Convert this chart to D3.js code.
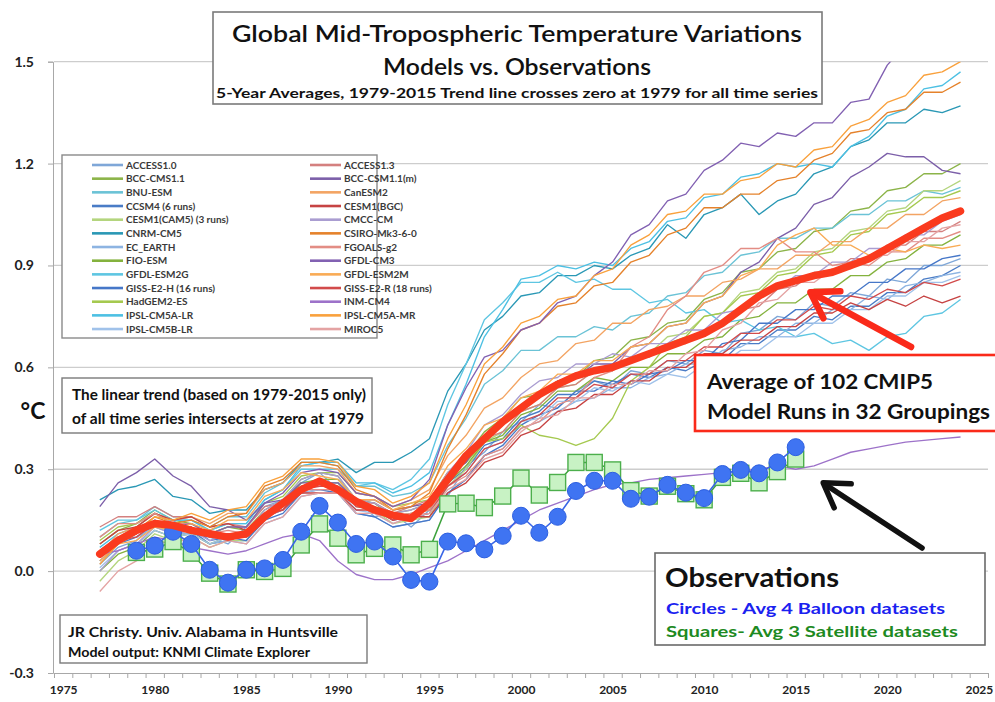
<!DOCTYPE html>
<html><head><meta charset="utf-8">
<script src="https://cdn.jsdelivr.net/npm/d3@7/dist/d3.min.js"></script>
<style>body{margin:0;background:#fff}svg{display:block}</style>
</head><body><svg id="c" width="995" height="702"></svg>
<script>
// ---------- DATA ----------
const years = d3.range(1977, 2025);      // model 5-yr averages
const obsYears = d3.range(1979, 2016);   // observations
const yTicks = [-0.3, 0.0, 0.3, 0.6, 0.9, 1.2, 1.5];
const xTickLabels = [1975,1980,1985,1990,1995,2000,2005,2010,2015,2020,2025];

const modelNames = ["ACCESS1.0","BCC-CMS1.1","BNU-ESM","CCSM4 (6 runs)","CESM1(CAM5) (3 runs)","CNRM-CM5","EC_EARTH","FIO-ESM","GFDL-ESM2G","GISS-E2-H (16 runs)","HadGEM2-ES","IPSL-CM5A-LR","IPSL-CM5B-LR",
  "ACCESS1.3","BCC-CSM1.1(m)","CanESM2","CESM1(BGC)","CMCC-CM","CSIRO-Mk3-6-0","FGOALS-g2","GFDL-CM3","GFDL-ESM2M","GISS-E2-R (18 runs)","INM-CM4","IPSL-CM5A-MR","MIROC5"];
const modelColors = ["#7fa7d8","#8cb449","#6bc3d6","#4a7cc6","#b4d57e","#2a98b5","#8db4e2","#84b23e","#5ec6e2","#4677c8","#a5c94f","#4dc0e3","#a0c2ea",
  "#d4807f","#7c5fa9","#f3a463","#c64343","#aa9dd1","#e5822b","#e38d85","#8261b2","#f9ab55","#d24b4b","#9d72c9","#f9a13d","#e4a3a3"];

const ACCESS10 = [.02,.07,.09,.14,.15,.11,.10,.08,.13,.19,.21,.26, .29,.24,.21,.16,.17,.13,.18,.22,.31,.35,.41,.44, .49,.48,.53,.56,.54,.59,.58,.62,.61,.65,.64,.70, .71,.75,.74,.79,.78,.82,.81,.86,.85,.90,.90,.92];
const BCCCMS11 = [.08,.12,.14,.18,.15,.14,.11,.13,.12,.18,.21,.27, .29,.28,.21,.20,.17,.18,.20,.29,.34,.41,.45,.51, .52,.56,.57,.62,.63,.68,.69,.73,.74,.80,.82,.88, .89,.94,.95,1.00,1.01,1.06,1.07,1.12,1.13,1.17,1.17,1.20];
const BNUESM = [.10,.14,.15,.19,.16,.16,.13,.16,.16,.23,.26,.31, .32,.31,.25,.25,.22,.23,.26,.37,.45,.55,.59,.65, .65,.69,.69,.72,.71,.75,.76,.81,.82,.87,.88,.93, .94,.98,.98,1.01,1.01,1.05,1.05,1.09,1.09,1.12,1.11,1.13];
const CCSM4 = [.03,.08,.10,.14,.11,.12,.08,.09,.09,.16,.18,.25, .26,.26,.20,.19,.15,.16,.17,.26,.30,.37,.39,.45, .47,.52,.52,.56,.55,.58,.57,.60,.59,.62,.62,.67, .67,.71,.71,.75,.74,.78,.78,.82,.82,.86,.87,.90];
const CESM1CAM5 = [-.03,.03,.06,.11,.09,.10,.07,.09,.09,.16,.19,.25, .26,.26,.19,.18,.14,.15,.16,.25,.30,.38,.41,.47, .49,.54,.55,.59,.59,.63,.64,.69,.70,.75,.76,.82, .83,.88,.89,.94,.95,1.00,1.01,1.06,1.07,1.12,1.12,1.15];
const CNRMCM5 = [.21,.24,.25,.27,.22,.21,.17,.18,.18,.24,.26,.32, .32,.33,.29,.32,.32,.35,.39,.53,.61,.71,.75,.81, .82,.87,.87,.90,.89,.93,.95,1.02,.98,1.05,1.07,1.11, 1.05,1.09,1.11,1.17,1.19,1.25,1.27,1.32,1.32,1.36,1.35,1.37];
const ECEARTH = [.06,.10,.10,.13,.11,.11,.08,.09,.08,.14,.16,.22, .23,.23,.17,.16,.13,.14,.15,.23,.27,.34,.36,.42, .44,.47,.50,.51,.54,.54,.57,.58,.61,.61,.65,.66, .69,.69,.73,.73,.77,.77,.81,.80,.84,.85,.87,.88];
const FIOESM = [.00,.05,.07,.12,.10,.11,.08,.10,.10,.17,.20,.26, .27,.27,.21,.20,.16,.17,.18,.26,.31,.38,.40,.46, .48,.53,.53,.57,.56,.60,.60,.64,.64,.68,.69,.74, .75,.79,.79,.83,.83,.87,.87,.91,.92,.96,.96,.99];
const GFDLESM2G = [.12,.15,.15,.18,.15,.15,.12,.14,.14,.21,.24,.30, .30,.30,.25,.26,.24,.27,.33,.49,.61,.74,.79,.85, .85,.88,.85,.86,.83,.83,.79,.80,.76,.77,.73,.74, .71,.72,.69,.70,.67,.68,.65,.69,.70,.75,.76,.80];
const GISSE2H = [.04,.09,.11,.15,.12,.13,.09,.10,.09,.15,.17,.23, .24,.23,.17,.16,.13,.14,.15,.23,.27,.34,.37,.43, .46,.48,.53,.53,.56,.55,.58,.59,.62,.62,.67,.68, .73,.73,.77,.77,.81,.81,.85,.85,.89,.89,.92,.93];
const HADGEM2ES = [.09,.13,.14,.17,.14,.14,.11,.13,.13,.20,.22,.28, .29,.29,.23,.22,.19,.20,.21,.29,.32,.38,.39,.43, .40,.39,.37,.39,.45,.56,.60,.67,.69,.75,.76,.81, .82,.87,.88,.93,.94,.99,1.00,1.05,1.06,1.10,1.10,1.12];
const IPSLCM5ALR = [.07,.11,.13,.17,.15,.15,.12,.14,.14,.21,.24,.31, .32,.32,.26,.26,.23,.25,.29,.43,.55,.69,.77,.86, .87,.90,.89,.91,.90,.95,.97,1.03,1.04,1.10,1.11,1.16, 1.17,1.20,1.19,1.20,1.19,1.25,1.28,1.34,1.36,1.42,1.43,1.47];
const IPSLCM5BLR = [.01,.06,.08,.12,.10,.11,.08,.10,.10,.16,.18,.23, .24,.24,.18,.17,.14,.16,.17,.25,.29,.36,.38,.44, .45,.50,.50,.54,.53,.56,.55,.58,.57,.61,.61,.65, .65,.69,.69,.73,.73,.77,.77,.81,.81,.85,.85,.87];
const ACCESS13 = [.13,.16,.16,.19,.16,.16,.13,.14,.13,.19,.20,.25, .25,.25,.20,.20,.17,.19,.21,.29,.33,.39,.41,.47, .49,.54,.55,.59,.59,.63,.63,.67,.67,.71,.72,.77, .78,.83,.84,.88,.88,.92,.92,.96,.96,1.00,1.00,1.03];
const BCCCSM11m = [.19,.26,.29,.33,.28,.25,.19,.18,.15,.20,.21,.26, .26,.26,.21,.21,.18,.19,.20,.28,.32,.40,.43,.49, .51,.56,.57,.61,.61,.66,.67,.72,.73,.79,.81,.88, .91,.98,1.01,1.08,1.10,1.16,1.19,1.23,1.22,1.22,1.18,1.17];
const CANESM2 = [.05,.11,.13,.17,.15,.16,.14,.17,.17,.24,.26,.31, .31,.30,.23,.22,.19,.21,.24,.34,.40,.48,.51,.57, .61,.62,.67,.68,.73,.73,.77,.78,.81,.81,.85,.86, .89,.89,.93,.93,.97,.97,1.01,1.01,1.05,1.05,1.09,1.10];
const CESM1BGC = [.08,.12,.13,.17,.15,.16,.13,.14,.12,.17,.18,.23, .23,.23,.18,.18,.15,.16,.16,.23,.26,.32,.34,.40, .42,.47,.48,.52,.52,.56,.56,.60,.60,.64,.64,.68, .68,.72,.72,.76,.76,.79,.77,.80,.78,.81,.79,.81];
const CMCCCM = [.00,.06,.08,.13,.11,.12,.09,.11,.11,.18,.21,.27, .29,.28,.21,.20,.17,.18,.20,.29,.35,.43,.46,.52, .56,.57,.61,.61,.64,.63,.67,.67,.71,.71,.76,.77, .82,.83,.87,.87,.91,.91,.95,.95,.99,.99,1.03,1.05];
const CSIROMK360 = [.04,.10,.12,.16,.14,.15,.13,.16,.17,.25,.27,.32, .32,.31,.24,.22,.18,.19,.23,.36,.46,.58,.64,.71, .73,.78,.79,.84,.85,.91,.93,.99,1.01,1.07,1.07,1.11, 1.11,1.15,1.16,1.21,1.23,1.29,1.30,1.35,1.36,1.41,1.41,1.44];
const FGOALSG2 = [.10,.14,.14,.17,.14,.14,.11,.12,.11,.17,.19,.24, .24,.24,.19,.19,.16,.17,.18,.25,.28,.34,.36,.42, .44,.49,.51,.57,.59,.66,.69,.77,.81,.88,.90,.95, .95,.98,.94,.94,.90,.91,.90,.94,.94,.98,.98,1.00];
const GFDLCM3 = [.06,.10,.11,.15,.13,.14,.11,.13,.13,.20,.23,.29, .30,.29,.23,.22,.19,.21,.27,.43,.54,.63,.65,.71, .73,.79,.81,.87,.91,.99,1.02,1.09,1.11,1.18,1.21,1.26, 1.25,1.29,1.28,1.32,1.32,1.38,1.39,1.49,1.55,1.63,1.65,1.70];
const GFDLESM2M = [.03,.08,.09,.13,.12,.14,.12,.15,.15,.22,.24,.29, .28,.27,.21,.21,.18,.20,.22,.31,.36,.43,.45,.51, .53,.58,.58,.62,.62,.66,.67,.72,.73,.79,.81,.87, .89,.96,.99,1.01,.96,.96,.93,.95,.94,.96,.95,.96];
const GISSE2R = [.05,.09,.10,.14,.12,.13,.10,.11,.10,.16,.18,.24, .25,.25,.19,.18,.15,.16,.17,.25,.29,.36,.38,.44, .46,.51,.51,.55,.54,.58,.58,.62,.62,.66,.66,.70, .70,.74,.74,.78,.77,.81,.80,.83,.82,.85,.84,.86];
const INMCM4 = [.05,.06,.08,.10,.09,.07,.06,.05,.06,.08,.10,.11, .09,.03,-.01,-.025,-.025,-.01,.01,.03,.06,.09,.12,.15, .18,.20,.22,.24,.255,.26,.27,.275,.28,.285,.29,.295, .30,.31,.30,.31,.33,.35,.36,.37,.38,.385,.39,.395];
const IPSLCM5AMR = [.02,.08,.11,.16,.15,.17,.15,.18,.19,.26,.28,.33, .33,.32,.25,.24,.20,.22,.26,.39,.49,.61,.66,.73, .75,.80,.81,.87,.89,.96,.99,1.05,1.06,1.11,1.11,1.15, 1.16,1.20,1.19,1.24,1.25,1.31,1.33,1.38,1.40,1.46,1.47,1.50];
const MIROC5 = [-.06,.00,.03,.09,.08,.10,.07,.09,.08,.14,.16,.22, .23,.23,.17,.17,.14,.16,.17,.24,.27,.33,.35,.41, .45,.46,.51,.51,.55,.55,.59,.59,.64,.65,.71,.73, .79,.80,.85,.85,.89,.89,.93,.93,.97,.97,1.01,1.02];

const modelSeries = [ACCESS10,BCCCMS11,BNUESM,CCSM4,CESM1CAM5,CNRMCM5,ECEARTH,FIOESM,GFDLESM2G,GISSE2H,HADGEM2ES,IPSLCM5ALR,IPSLCM5BLR,
  ACCESS13,BCCCSM11m,CANESM2,CESM1BGC,CMCCCM,CSIROMK360,FGOALSG2,GFDLCM3,GFDLESM2M,GISSE2R,INMCM4,IPSLCM5AMR,MIROC5];

const modelMean = [.05,.09,.12,.14,.135,.12,.11,.10,.11,.16,.20,.24, .265,.24,.205,.18,.165,.155,.20,.27,.34,.39,.44,.48, .52,.55,.575,.59,.60,.62,.64,.66,.68,.70,.73,.77, .81,.84,.855,.87,.88,.90,.92,.95,.98,1.01,1.04,1.06];

const balloon = [.060,.075,.116,.080,.004,-.034,.004,.008,.033,.116, .192,.143,.080,.087,.043,-.026,-.031,.087,.082,.064, .104,.163,.113,.160,.236,.266,.266,.213,.219,.254, .231,.215,.286,.298,.288,.320,.365];
const satellite = [.055,.065,.087,.053,-.006,-.038,.004,-.001,.008,.077, .139,.097,.048,.067,.077,.048,.064,.198,.200,.187, .221,.274,.224,.261,.320,.320,.298,.237,.221,.250, .228,.210,.276,.288,.260,.293,.330];

// ---------- CHART ----------
const FONT = "Lato, 'Open Sans', 'DejaVu Sans', sans-serif";
const svg = d3.select("#c");
const x = d3.scaleLinear().domain([1974.5, 2025.5]).range([54, 988]);
const y = d3.scaleLinear().domain([-0.3, 1.5]).range([673, 61.7]);

svg.append("defs").append("clipPath").attr("id","plot")
  .append("rect").attr("x",54).attr("y",y(1.5)).attr("width",934).attr("height",y(-0.3)-y(1.5));

// gridlines
svg.append("g").selectAll("line").data(yTicks.filter(d=>d>-0.3)).join("line")
  .attr("x1",54).attr("x2",988).attr("y1",d=>y(d)).attr("y2",d=>y(d))
  .attr("stroke","#cdcdcd").attr("stroke-width",1.3);

// y axis
const ya = svg.append("g").attr("transform","translate(53,0)")
  .call(d3.axisLeft(y).tickValues(yTicks).tickSize(5).tickPadding(14).tickFormat(d=>d.toFixed(1)));
ya.select(".domain").attr("stroke","#a8a8a8");
ya.selectAll(".tick line").attr("stroke","#a8a8a8");
ya.selectAll("text").attr("font-family",FONT).attr("font-weight","bold").attr("font-size",14).attr("fill","#222");

// x axis ticks
const xa = svg.append("g").attr("transform","translate(0,673)")
  .call(d3.axisBottom(x).tickValues(d3.range(1974.5, 2026, 1)).tickSize(5).tickFormat(""));
xa.select(".domain").attr("stroke","#a8a8a8");
xa.selectAll(".tick line").attr("stroke","#a8a8a8");
const xl = svg.append("g").attr("transform","translate(0,673)")
  .call(d3.axisBottom(x).tickValues(xTickLabels).tickSize(0).tickPadding(12).tickFormat(d3.format("d")));
xl.select(".domain").remove();
xl.selectAll("text").attr("font-family",FONT).attr("font-weight","bold").attr("font-size",12).attr("fill","#222");

// °C label
svg.append("text").attr("x",33).attr("y",419).attr("text-anchor","middle")
  .attr("font-family",FONT).attr("font-weight","bold").attr("font-size",23).attr("fill","#111").text("°C");

const plot = svg.append("g").attr("clip-path","url(#plot)");
const line = d3.line().x((d,i)=>x(years[i])).y(d=>y(d));

// model spaghetti
plot.append("g").selectAll("path").data(modelSeries).join("path")
  .attr("d",line).attr("fill","none")
  .attr("stroke",(d,i)=>modelColors[i]).attr("stroke-width",1.35).attr("stroke-linejoin","round");

// satellite squares
const oline = d3.line().x((d,i)=>x(obsYears[i])).y(d=>y(d));
plot.append("path").datum(satellite).attr("d",oline).attr("fill","none").attr("stroke","#3ca23c").attr("stroke-width",1.5);
plot.append("g").selectAll("rect").data(satellite).join("rect")
  .attr("x",(d,i)=>x(obsYears[i])-8).attr("y",d=>y(d)-8).attr("width",16).attr("height",16)
  .attr("fill","#c8f2c4").attr("stroke","#4caf4c").attr("stroke-width",1.4);

// balloon circles
plot.append("path").datum(balloon).attr("d",oline).attr("fill","none").attr("stroke","#3a66e6").attr("stroke-width",1.6);
plot.append("g").selectAll("circle").data(balloon).join("circle")
  .attr("cx",(d,i)=>x(obsYears[i])).attr("cy",d=>y(d)).attr("r",8.5)
  .attr("fill","#3f74f2").attr("stroke","#2d5fe0").attr("stroke-width",1);

// model mean
plot.append("path").datum(modelMean).attr("d",line).attr("fill","none")
  .attr("stroke","#fa3a1e").attr("stroke-width",7.5).attr("stroke-linejoin","round").attr("stroke-linecap","round");

// ---------- ANNOTATIONS ----------
function box(x0,y0,w,h,stroke,sw){
  svg.append("rect").attr("x",x0).attr("y",y0).attr("width",w).attr("height",h)
    .attr("fill","#fff").attr("stroke",stroke).attr("stroke-width",sw);
}
function txt(t,x0,y0,size,opts={}){
  const e = svg.append("text").attr("x",x0).attr("y",y0).attr("font-family",FONT)
    .attr("font-size",size).attr("font-weight",opts.weight||"bold").attr("fill",opts.fill||"#111")
    .attr("text-anchor",opts.anchor||"start").text(t);
  if(opts.len) e.attr("textLength",opts.len).attr("lengthAdjust","spacingAndGlyphs");
  return e;
}

// title box
box(213,12,609,92,"#7a7a7a",1.6);
txt("Global Mid-Tropospheric Temperature Variations",517,42,23,{anchor:"middle",len:570,weight:600});
txt("Models vs. Observations",517,75,23,{anchor:"middle",len:268,weight:600});
txt("5-Year Averages, 1979-2015 Trend line crosses zero at 1979 for all time series",517,98,14,{anchor:"middle",len:602});

// legend box
box(62,155,315,183,"#8a8a8a",1.4);
const lg = svg.append("g");
modelNames.forEach((n,i)=>{
  const col = i<13?0:1, row = i%13;
  const lx = col===0?92:310, ly = 165 + row*13.67;
  lg.append("line").attr("x1",lx).attr("x2",lx+31).attr("y1",ly).attr("y2",ly)
    .attr("stroke",modelColors[i]).attr("stroke-width",2.6);
  lg.append("text").attr("x",lx+34).attr("y",ly+3.6).attr("font-family",FONT).attr("font-weight","bold")
    .attr("font-size",10).attr("fill","#3a3a3a").text(n);
});

// linear trend note
box(62,378,310,55,"#7a7a7a",1.4);
txt("The linear trend (based on 1979-2015 only)",72,400,14.5,{len:294});
txt("of all time series intersects at zero at 1979",72,424,14.5,{len:292});

// credit box
box(60,615,307,48,"#7a7a7a",1.4);
txt("JR Christy. Univ. Alabama in Huntsville",68,637,13,{len:270});
txt("Model output: KNMI Climate Explorer",68,657,13,{len:242});

// red arrow
const ra = [[x(2021.3), y(0.66)],[x(2015.8), y(0.821)]];
svg.append("line").attr("x1",ra[0][0]).attr("y1",ra[0][1]).attr("x2",ra[1][0]+4).attr("y2",ra[1][1]+2)
  .attr("stroke","#fa2a1a").attr("stroke-width",6.5).attr("stroke-linecap","round");
svg.append("path").attr("d",`M${ra[1][0]+30},${ra[1][1]-1} L${ra[1][0]},${ra[1][1]} L${ra[1][0]+13},${ra[1][1]+26}`)
  .attr("fill","none").attr("stroke","#fa2a1a").attr("stroke-width",6.5).attr("stroke-linecap","round").attr("stroke-linejoin","round");

// average box
box(695,355,305,76,"#fa2a1a",2.6);
txt("Average of 102 CMIP5",707,389,20,{len:226});
txt("Model Runs in 32 Groupings",707,419,20,{len:283});

// black arrow
const ba = [[x(2021.9), y(0.068)],[x(2016.5), y(0.26)]];
svg.append("line").attr("x1",ba[0][0]).attr("y1",ba[0][1]).attr("x2",ba[1][0]+4).attr("y2",ba[1][1]+3)
  .attr("stroke","#111").attr("stroke-width",5.5).attr("stroke-linecap","round");
svg.append("path").attr("d",`M${ba[1][0]+28},${ba[1][1]+1} L${ba[1][0]},${ba[1][1]} L${ba[1][0]+11},${ba[1][1]+25}`)
  .attr("fill","none").attr("stroke","#111").attr("stroke-width",5.5).attr("stroke-linecap","round").attr("stroke-linejoin","round");

// observations box
box(655,553,330,92,"#6a6a6a",1.6);
txt("Observations",665,587,27,{len:174});
txt("Circles - Avg 4 Balloon datasets",666,614,16,{len:279,fill:"#1a22f0"});
txt("Squares- Avg 3 Satellite datasets",666,637,16,{len:292,fill:"#1d8a22"});
</script></body></html>
